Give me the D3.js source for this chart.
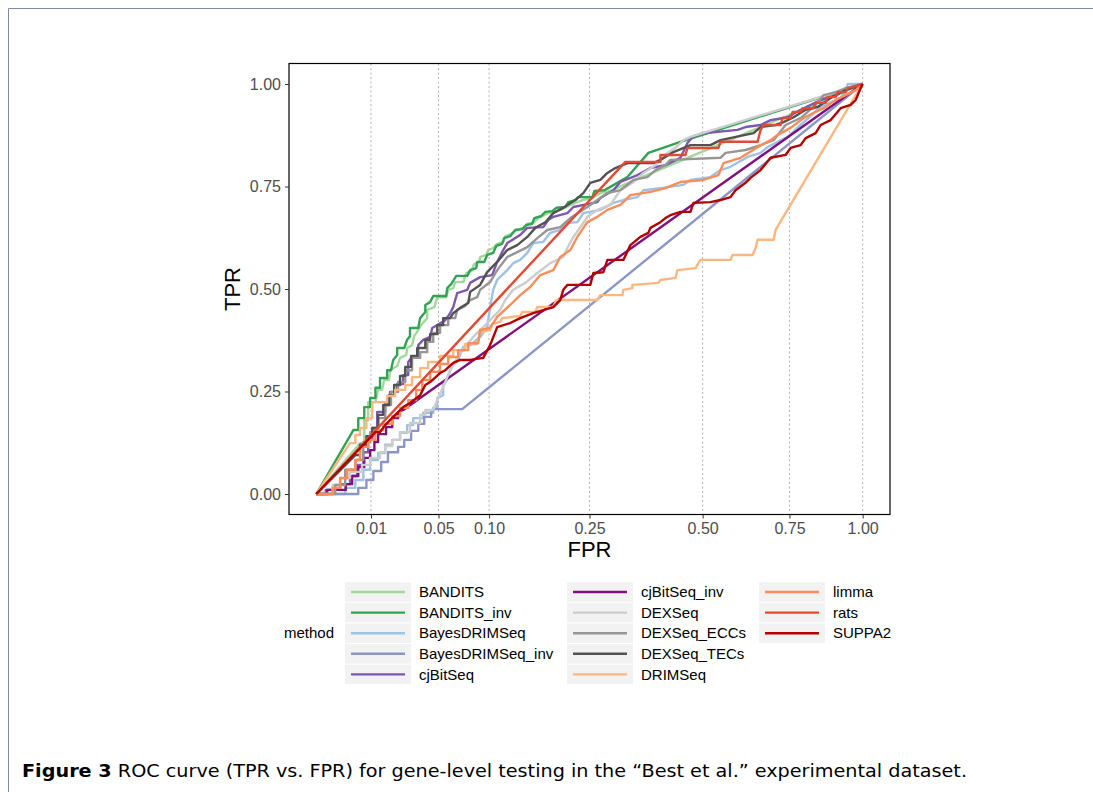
<!DOCTYPE html>
<html><head><meta charset="utf-8">
<script src="https://cdn.jsdelivr.net/npm/d3@7"></script>
<style>
html,body{margin:0;padding:0;background:#fff;}
svg{display:block;}
text{font-family:"Liberation Sans",Arial,Helvetica,sans-serif;}
</style></head>
<body>
<svg id="chart" width="1093" height="792"></svg>
<script>
// ---------------- data ----------------
const methods = ["BANDITS","BANDITS_inv","BayesDRIMSeq","BayesDRIMSeq_inv","cjBitSeq","cjBitSeq_inv","DEXSeq","DEXSeq_ECCs","DEXSeq_TECs","DRIMSeq","limma","rats","SUPPA2"];
const palette = ["#a1d99b","#31a354","#9ec2e3","#8c96c6","#7e57b0","#810f7c","#cccccc","#969696","#525252","#fdb67f","#fc8d59","#e34a33","#b30000"];
const xTickValues = [0.01,0.05,0.10,0.25,0.50,0.75,1.00];
const yTickValues = [0,0.25,0.5,0.75,1];

const BANDITS = [[0,0],[0.0064,0.124],[0.0077,0.124],[0.0077,0.180],[0.0090,0.180],[0.0090,0.224],[0.0117,0.224],[0.0128,0.254],[0.0145,0.254],[0.0154,0.278],[0.0177,0.278],[0.0182,0.302],[0.0219,0.312],[0.0235,0.332],[0.0271,0.339],[0.0276,0.356],[0.0307,0.363],[0.0321,0.385],[0.0348,0.400],[0.0368,0.412],[0.0412,0.429],[0.0412,0.449],[0.0466,0.456],[0.0490,0.480],[0.0565,0.480],[0.0583,0.498],[0.0628,0.502],[0.0646,0.517],[0.0723,0.517],[0.0753,0.539],[0.0804,0.544],[0.0835,0.561],[0.0888,0.566],[0.0899,0.578],[0.0967,0.583],[0.0990,0.595],[0.1048,0.600],[0.1096,0.610],[0.1170,0.615],[0.1196,0.629],[0.1272,0.634],[0.1340,0.644],[0.1435,0.649],[0.1491,0.659],[0.1592,0.663],[0.1651,0.673],[0.1772,0.683],[0.1881,0.688],[0.1993,0.693],[0.2094,0.700],[0.2247,0.710],[0.2370,0.717],[0.2552,0.722],[0.2702,0.734],[0.2936,0.741],[0.3200,0.756],[1,1]];

const BANDITS_inv = [[0,0],[0.0046,0.156],[0.0059,0.156],[0.0059,0.185],[0.0077,0.185],[0.0077,0.212],[0.0097,0.212],[0.0097,0.234],[0.0117,0.234],[0.0117,0.259],[0.0136,0.259],[0.0136,0.283],[0.0168,0.283],[0.0168,0.302],[0.0187,0.302],[0.0198,0.327],[0.0219,0.339],[0.0219,0.356],[0.0259,0.356],[0.0276,0.376],[0.0294,0.385],[0.0294,0.405],[0.0348,0.405],[0.0361,0.429],[0.0398,0.444],[0.0398,0.461],[0.0434,0.468],[0.0458,0.483],[0.0565,0.483],[0.0574,0.502],[0.0609,0.512],[0.0656,0.532],[0.0763,0.532],[0.0793,0.546],[0.0857,0.551],[0.0867,0.566],[0.0944,0.566],[0.0978,0.583],[0.1048,0.588],[0.1084,0.605],[0.1157,0.610],[0.1183,0.624],[0.1259,0.629],[0.1326,0.644],[0.1421,0.646],[0.1477,0.656],[0.1562,0.659],[0.1592,0.673],[0.1695,0.678],[0.1757,0.688],[0.1865,0.690],[0.1929,0.698],[0.2077,0.700],[0.2127,0.712],[0.2247,0.717],[0.2299,0.724],[0.2552,0.724],[0.2590,0.739],[0.2780,0.741],[0.2896,0.749],[0.3242,0.773],[0.3694,0.832],[0.4441,0.859],[1,1]];

const BayesDRIMSeq = [[0,0],[0.0028,0],[0.0028,0.015],[0.0051,0.015],[0.0051,0.034],[0.0074,0.034],[0.0074,0.059],[0.0097,0.059],[0.0097,0.083],[0.0128,0.083],[0.0128,0.100],[0.0159,0.100],[0.0159,0.120],[0.0193,0.120],[0.0193,0.132],[0.0235,0.132],[0.0235,0.149],[0.0276,0.149],[0.0276,0.168],[0.0314,0.168],[0.0314,0.185],[0.0383,0.185],[0.0383,0.198],[0.0458,0.198],[0.0458,0.210],[0.0490,0.210],[0.0490,0.234],[0.0539,0.241],[0.0539,0.266],[0.0574,0.278],[0.0600,0.302],[0.0628,0.315],[0.0674,0.327],[0.0723,0.359],[0.0793,0.363],[0.0899,0.383],[0.0978,0.407],[0.1012,0.456],[0.1048,0.498],[0.1096,0.522],[0.1221,0.546],[0.1299,0.563],[0.1393,0.571],[0.1491,0.588],[0.1577,0.612],[0.1726,0.615],[0.1833,0.637],[0.1993,0.644],[0.2111,0.661],[0.2282,0.663],[0.2388,0.685],[0.2702,0.693],[0.2956,0.710],[0.3159,0.717],[0.3454,0.724],[0.3584,0.741],[0.3966,0.746],[0.4515,0.754],[0.4689,0.766],[0.5204,0.773],[0.5472,0.790],[0.5747,0.798],[0.6230,0.822],[0.6611,0.832],[0.6821,0.846],[0.7439,0.871],[0.7857,0.900],[0.8520,0.944],[0.9210,0.966],[0.9388,0.985],[0.9459,1],[1,1]];

const BayesDRIMSeq_inv = [[0,0],[0.0059,0],[0.0059,0.015],[0.0084,0.015],[0.0084,0.034],[0.0109,0.034],[0.0109,0.056],[0.0141,0.056],[0.0141,0.078],[0.0172,0.078],[0.0172,0.102],[0.0224,0.102],[0.0224,0.115],[0.0259,0.115],[0.0259,0.132],[0.0301,0.132],[0.0301,0.154],[0.0348,0.154],[0.0348,0.171],[0.0390,0.171],[0.0390,0.188],[0.0442,0.188],[0.0442,0.200],[0.0466,0.207],[0.0713,0.207],[1,1]];

const cjBitSeq = [[0,0],[0.0003,0],[0.0003,0.010],[0.0019,0.010],[0.0019,0.024],[0.0038,0.024],[0.0038,0.044],[0.0056,0.044],[0.0056,0.071],[0.0074,0.071],[0.0074,0.102],[0.0090,0.102],[0.0090,0.132],[0.0105,0.132],[0.0105,0.161],[0.0124,0.161],[0.0124,0.200],[0.0159,0.200],[0.0159,0.222],[0.0182,0.222],[0.0182,0.249],[0.0219,0.249],[0.0219,0.268],[0.0253,0.268],[0.0253,0.290],[0.0283,0.290],[0.0283,0.322],[0.0307,0.334],[0.0348,0.334],[0.0348,0.363],[0.0383,0.376],[0.0434,0.383],[0.0450,0.405],[0.0490,0.412],[0.0557,0.424],[0.0600,0.441],[0.0628,0.456],[0.0665,0.490],[0.0763,0.498],[0.0793,0.515],[0.0899,0.529],[0.1036,0.534],[0.1096,0.566],[0.1170,0.595],[0.1221,0.612],[0.1393,0.632],[0.1491,0.649],[0.1726,0.651],[0.1803,0.668],[0.1881,0.676],[0.2111,0.685],[0.2213,0.700],[0.2646,0.712],[0.2702,0.722],[0.2956,0.741],[0.3097,0.761],[0.3454,0.778],[0.3739,0.795],[0.4083,0.802],[0.4441,0.820],[0.4614,0.856],[0.4765,0.873],[0.5021,0.880],[0.5943,0.888],[0.6172,0.895],[0.6611,0.900],[0.6912,0.912],[0.7439,0.919],[0.7857,0.937],[0.8520,0.961],[0.9036,0.973],[0.9459,0.990],[1,1]];

const cjBitSeq_inv = [[0,0],[0.0004,0],[0.0004,0.010],[0.0029,0.010],[0.0029,0.024],[0.0043,0.024],[0.0043,0.044],[0.0059,0.044],[0.0059,0.066],[0.0077,0.066],[0.0077,0.088],[0.0097,0.088],[0.0097,0.107],[0.0113,0.107],[0.0113,0.127],[0.0128,0.127],[0.0128,0.146],[0.0163,0.146],[0.0163,0.163],[0.0193,0.163],[0.0193,0.185],[0.0224,0.185],[0.0224,0.200],[0.0253,0.205],[1,1]];

const DEXSeq = [[0,0],[0.0009,0],[0.0009,0.022],[0.0019,0.022],[0.0019,0.039],[0.0038,0.039],[0.0038,0.054],[0.0070,0.054],[0.0070,0.071],[0.0097,0.071],[0.0097,0.088],[0.0136,0.088],[0.0136,0.102],[0.0159,0.102],[0.0159,0.117],[0.0193,0.117],[0.0193,0.132],[0.0235,0.132],[0.0235,0.151],[0.0294,0.151],[0.0294,0.173],[0.0361,0.173],[0.0361,0.193],[0.0398,0.193],[0.0398,0.205],[0.0458,0.205],[0.0490,0.229],[0.0539,0.261],[0.0600,0.302],[0.0693,0.344],[0.0825,0.383],[0.0933,0.407],[0.1012,0.424],[0.1132,0.449],[0.1196,0.473],[0.1299,0.498],[0.1463,0.515],[0.1636,0.539],[0.1833,0.563],[0.2043,0.578],[0.2111,0.600],[0.2213,0.627],[0.2388,0.661],[0.2461,0.676],[0.2646,0.693],[0.2896,0.705],[0.3097,0.741],[0.3347,0.759],[0.3584,0.783],[0.3852,0.802],[0.4130,0.832],[0.4320,0.844],[0.4515,0.863],[0.4689,0.871],[1,1]];

const DEXSeq_ECCs = [[0,0],[0.0012,0],[0.0012,0.022],[0.0028,0.022],[0.0028,0.059],[0.0051,0.059],[0.0051,0.083],[0.0074,0.083],[0.0074,0.127],[0.0097,0.127],[0.0097,0.151],[0.0128,0.151],[0.0128,0.185],[0.0159,0.185],[0.0159,0.217],[0.0187,0.217],[0.0187,0.249],[0.0224,0.249],[0.0224,0.273],[0.0265,0.273],[0.0265,0.302],[0.0307,0.302],[0.0307,0.332],[0.0361,0.332],[0.0361,0.346],[0.0412,0.346],[0.0412,0.371],[0.0458,0.371],[0.0458,0.393],[0.0513,0.393],[0.0513,0.412],[0.0583,0.412],[0.0583,0.429],[0.0646,0.429],[0.0665,0.449],[0.0743,0.459],[0.0793,0.473],[0.0867,0.480],[0.0899,0.498],[0.1012,0.517],[0.1096,0.546],[0.1221,0.578],[0.1353,0.590],[0.1491,0.602],[0.1636,0.624],[0.1787,0.644],[0.1993,0.651],[0.2161,0.673],[0.2461,0.700],[0.2646,0.717],[0.2838,0.734],[0.3097,0.741],[0.3368,0.766],[0.3672,0.773],[0.3852,0.790],[0.4083,0.802],[0.4200,0.815],[0.5472,0.820],[0.5610,0.832],[0.6172,0.839],[0.6611,0.851],[0.7005,0.863],[0.7376,0.900],[0.7857,0.917],[0.8352,0.949],[0.8622,0.973],[0.9036,0.980],[0.9388,0.990],[1,1]];

const DEXSeq_TECs = [[0,0],[0.0051,0.095],[0.0064,0.095],[0.0064,0.120],[0.0084,0.120],[0.0084,0.141],[0.0105,0.141],[0.0105,0.161],[0.0128,0.161],[0.0128,0.193],[0.0150,0.193],[0.0150,0.217],[0.0177,0.217],[0.0177,0.241],[0.0203,0.241],[0.0203,0.266],[0.0235,0.266],[0.0235,0.288],[0.0265,0.288],[0.0265,0.310],[0.0301,0.310],[0.0301,0.337],[0.0341,0.337],[0.0341,0.356],[0.0398,0.356],[0.0398,0.376],[0.0434,0.376],[0.0434,0.390],[0.0490,0.390],[0.0490,0.412],[0.0539,0.412],[0.0539,0.429],[0.0600,0.429],[0.0628,0.441],[0.0693,0.454],[0.0773,0.466],[0.0793,0.493],[0.0899,0.510],[0.0978,0.541],[0.1096,0.566],[0.1221,0.595],[0.1353,0.607],[0.1491,0.627],[0.1607,0.649],[0.1757,0.663],[0.1881,0.685],[0.2043,0.698],[0.2247,0.717],[0.2388,0.734],[0.2515,0.759],[0.2702,0.766],[0.2838,0.783],[0.2996,0.795],[0.3242,0.807],[0.3807,0.807],[0.3966,0.815],[0.4272,0.834],[0.4689,0.851],[0.5204,0.851],[0.5472,0.863],[0.6405,0.880],[0.6611,0.895],[0.7066,0.900],[0.7313,0.907],[0.7631,0.919],[0.8021,0.937],[0.8419,0.944],[0.8862,0.966],[0.9388,0.985],[1,1]];

const DRIMSeq = [[0,0],[0.0038,0.124],[0.0051,0.124],[0.0051,0.144],[0.0064,0.144],[0.0064,0.161],[0.0084,0.161],[0.0084,0.185],[0.0105,0.185],[0.0105,0.224],[0.0168,0.224],[0.0168,0.239],[0.0208,0.239],[0.0208,0.254],[0.0265,0.254],[0.0265,0.266],[0.0307,0.266],[0.0307,0.285],[0.0361,0.285],[0.0361,0.307],[0.0419,0.307],[0.0419,0.322],[0.0513,0.322],[0.0513,0.337],[0.0628,0.337],[0.0628,0.351],[0.0743,0.351],[0.0743,0.366],[0.0867,0.366],[0.0899,0.395],[0.1012,0.400],[0.1036,0.415],[0.1132,0.420],[0.1157,0.429],[0.1393,0.434],[0.1421,0.444],[0.1607,0.444],[0.1636,0.456],[0.1881,0.456],[0.1929,0.473],[0.2646,0.473],[0.2702,0.485],[0.3138,0.485],[0.3159,0.498],[0.3347,0.502],[0.3347,0.510],[0.3920,0.515],[0.3966,0.522],[0.4320,0.527],[0.4368,0.546],[0.4816,0.551],[0.4943,0.571],[0.5747,0.571],[0.5803,0.583],[0.6375,0.583],[0.6464,0.600],[0.6523,0.620],[0.7005,0.620],[0.7066,0.644],[0.9818,0.981],[1,1]];

const limma = [[0,0],[0.0009,0],[0.0009,0.015],[0.0019,0.015],[0.0019,0.039],[0.0032,0.039],[0.0032,0.059],[0.0051,0.059],[0.0051,0.083],[0.0064,0.083],[0.0064,0.115],[0.0090,0.115],[0.0090,0.132],[0.0117,0.132],[0.0117,0.156],[0.0150,0.156],[0.0150,0.171],[0.0193,0.171],[0.0193,0.190],[0.0235,0.190],[0.0235,0.210],[0.0283,0.210],[0.0283,0.229],[0.0334,0.229],[0.0334,0.254],[0.0376,0.254],[0.0376,0.278],[0.0434,0.278],[0.0434,0.298],[0.0513,0.298],[0.0513,0.317],[0.0583,0.317],[0.0583,0.334],[0.0674,0.334],[0.0674,0.351],[0.0773,0.351],[0.0773,0.368],[0.0878,0.368],[0.0899,0.400],[0.1012,0.405],[0.1096,0.432],[0.1259,0.461],[0.1393,0.485],[0.1533,0.505],[0.1680,0.534],[0.1881,0.546],[0.1993,0.578],[0.2161,0.595],[0.2282,0.627],[0.2461,0.663],[0.2646,0.676],[0.2838,0.693],[0.3097,0.705],[0.3304,0.729],[0.3739,0.737],[0.4083,0.746],[0.4272,0.754],[0.4441,0.761],[0.5021,0.766],[0.5418,0.778],[0.5555,0.807],[0.6028,0.820],[0.6523,0.846],[0.6912,0.863],[0.7128,0.876],[0.7535,0.893],[0.7955,0.917],[0.8352,0.932],[0.8622,0.941],[0.9036,0.961],[0.9388,0.973],[0.9745,0.985],[1,1]];

const rats = [[0,0],[0.3200,0.810],[0.3966,0.810],[0.3966,0.827],[0.4565,0.827],[0.4614,0.844],[0.5418,0.844],[0.5472,0.859],[0.6523,0.859],[0.6611,0.888],[0.6701,0.900],[0.7220,0.900],[0.7282,0.917],[0.7535,0.917],[0.7599,0.932],[0.7857,0.932],[0.7923,0.941],[0.8285,0.941],[0.8352,0.954],[0.8690,0.954],[0.8759,0.968],[0.9036,0.968],[0.9106,0.980],[0.9388,0.980],[0.9459,0.990],[1,1]];

const SUPPA2 = [[0,0],[0.0117,0.151],[0.0136,0.151],[0.0159,0.168],[0.0198,0.188],[0.0253,0.212],[0.0294,0.222],[0.0361,0.241],[0.0398,0.266],[0.0434,0.273],[0.0513,0.295],[0.0557,0.302],[0.0628,0.320],[0.0693,0.327],[0.0793,0.327],[0.0933,0.332],[0.1012,0.363],[0.1096,0.407],[0.1259,0.417],[0.1393,0.429],[0.1577,0.441],[0.1881,0.456],[0.1993,0.473],[0.2043,0.498],[0.2111,0.510],[0.2515,0.510],[0.2571,0.539],[0.2760,0.541],[0.2838,0.571],[0.3159,0.571],[0.3304,0.607],[0.3518,0.627],[0.3694,0.637],[0.3739,0.649],[0.3966,0.663],[0.4083,0.673],[0.4200,0.680],[0.4441,0.688],[0.4689,0.688],[0.4765,0.710],[0.5204,0.712],[0.5472,0.717],[0.5747,0.724],[0.5887,0.741],[0.6172,0.759],[0.6316,0.771],[0.6611,0.790],[0.6912,0.820],[0.7376,0.827],[0.7535,0.844],[0.7857,0.851],[0.8021,0.868],[0.8352,0.880],[0.8520,0.900],[0.8862,0.912],[0.9210,0.941],[0.9565,0.949],[0.9745,0.961],[0.9927,0.990],[1,1]];

const curveData = [BANDITS,BANDITS_inv,BayesDRIMSeq,BayesDRIMSeq_inv,cjBitSeq,cjBitSeq_inv,DEXSeq,DEXSeq_ECCs,DEXSeq_TECs,DRIMSeq,limma,rats,SUPPA2];
const series = methods.map((m,i)=>({name:m, color:palette[i], values:curveData[i]}));

// ---------------- layout ----------------
const svg = d3.select("#chart");
const panel = {left:289, right:890, top:63.5, bottom:514.5};
const pw = panel.right-panel.left, ph = panel.bottom-panel.top;
const ex = pw*0.05/1.1, ey = ph*0.05/1.1;

const x = d3.scaleSqrt().domain([0,1]).range([panel.left+ex, panel.right-ex]);
const y = d3.scaleLinear().domain([0,1]).range([panel.bottom-ey, panel.top+ey]);

// page frame lines
svg.append("line").attr("x1",8.5).attr("x2",8.5).attr("y1",8.5).attr("y2",792).attr("stroke","#7d8ca3").attr("stroke-width",1);
svg.append("line").attr("x1",8.5).attr("x2",1093).attr("y1",8.5).attr("y2",8.5).attr("stroke","#7d8ca3").attr("stroke-width",1);

// grid (vertical dotted)
svg.append("g").selectAll("line").data(xTickValues).join("line")
  .attr("x1",d=>x(d)).attr("x2",d=>x(d))
  .attr("y1",panel.top).attr("y2",panel.bottom)
  .attr("stroke","#b3b3b3").attr("stroke-width",1).attr("stroke-dasharray","2,2.5");

// clip
svg.append("clipPath").attr("id","clip").append("rect")
  .attr("x",panel.left).attr("y",panel.top).attr("width",pw).attr("height",ph);

const line = d3.line().x(d=>x(d[0])).y(d=>y(d[1]));
svg.append("g").attr("clip-path","url(#clip)")
  .selectAll("path").data(series).join("path")
  .attr("d",d=>line(d.values))
  .attr("fill","none").attr("stroke",d=>d.color)
  .attr("stroke-width",2.4).attr("stroke-linejoin","round").attr("stroke-linecap","butt");

// panel border
svg.append("rect").attr("x",panel.left).attr("y",panel.top).attr("width",pw).attr("height",ph)
  .attr("fill","none").attr("stroke","#000").attr("stroke-width",1.2);

// axes
const fmt = d3.format(".2f");
const gx = svg.append("g").attr("transform",`translate(0,${panel.bottom})`)
  .call(d3.axisBottom(x).tickValues(xTickValues).tickFormat(fmt).tickSize(4).tickPadding(4));
const gy = svg.append("g").attr("transform",`translate(${panel.left},0)`)
  .call(d3.axisLeft(y).tickValues(yTickValues).tickFormat(fmt).tickSize(4).tickPadding(4));
[gx,gy].forEach(g=>{
  g.select(".domain").remove();
  g.selectAll(".tick line").attr("stroke","#333").attr("stroke-width",1);
  g.selectAll(".tick text").attr("fill","#4d4d4d").style("font-size","16px")
    .style("font-family",'"Liberation Sans",Arial,sans-serif');
});

// axis titles
svg.append("text").attr("x",x(0.25)).attr("y",557).attr("text-anchor","middle")
  .style("font-size","22px").attr("fill","#000").text("FPR");
svg.append("text").attr("transform",`translate(240,${(panel.top+panel.bottom)/2}) rotate(-90)`)
  .attr("text-anchor","middle").style("font-size","22px").attr("fill","#000").text("TPR");

// legend
const legCols = [345, 567, 759];
const rowY0 = 592, rowH = 20.6, keyW = 66, keyH = 19.5;
svg.append("text").attr("x",284).attr("y",rowY0+2*rowH).attr("dy","0.35em")
  .style("font-size","15px").attr("fill","#000").text("method");
const lg = svg.append("g").selectAll("g").data(series).join("g")
  .attr("transform",(d,i)=>`translate(${legCols[Math.floor(i/5)]},${rowY0+(i%5)*rowH})`);
lg.append("rect").attr("x",0).attr("y",-keyH/2).attr("width",keyW).attr("height",keyH).attr("fill","#f2f2f2");
lg.append("line").attr("x1",6).attr("x2",keyW-6).attr("y1",0).attr("y2",0)
  .attr("stroke",d=>d.color).attr("stroke-width",2.4);
lg.append("text").attr("x",keyW+8).attr("y",0).attr("dy","0.35em")
  .style("font-size","15px").attr("fill","#000").text(d=>d.name);

// caption
const cap = svg.append("text").attr("x",22).attr("y",777)
  .style("font-family",'"DejaVu Sans Condensed","Liberation Sans Narrow","DejaVu Sans",sans-serif')
  .style("font-size","18px").attr("fill","#000")
  .attr("textLength",945).attr("lengthAdjust","spacingAndGlyphs");
cap.append("tspan").style("font-weight","bold").text("Figure 3");
cap.append("tspan").text(" ROC curve (TPR vs. FPR) for gene-level testing in the \u201CBest et al.\u201D experimental dataset.");
</script>
</body></html>
